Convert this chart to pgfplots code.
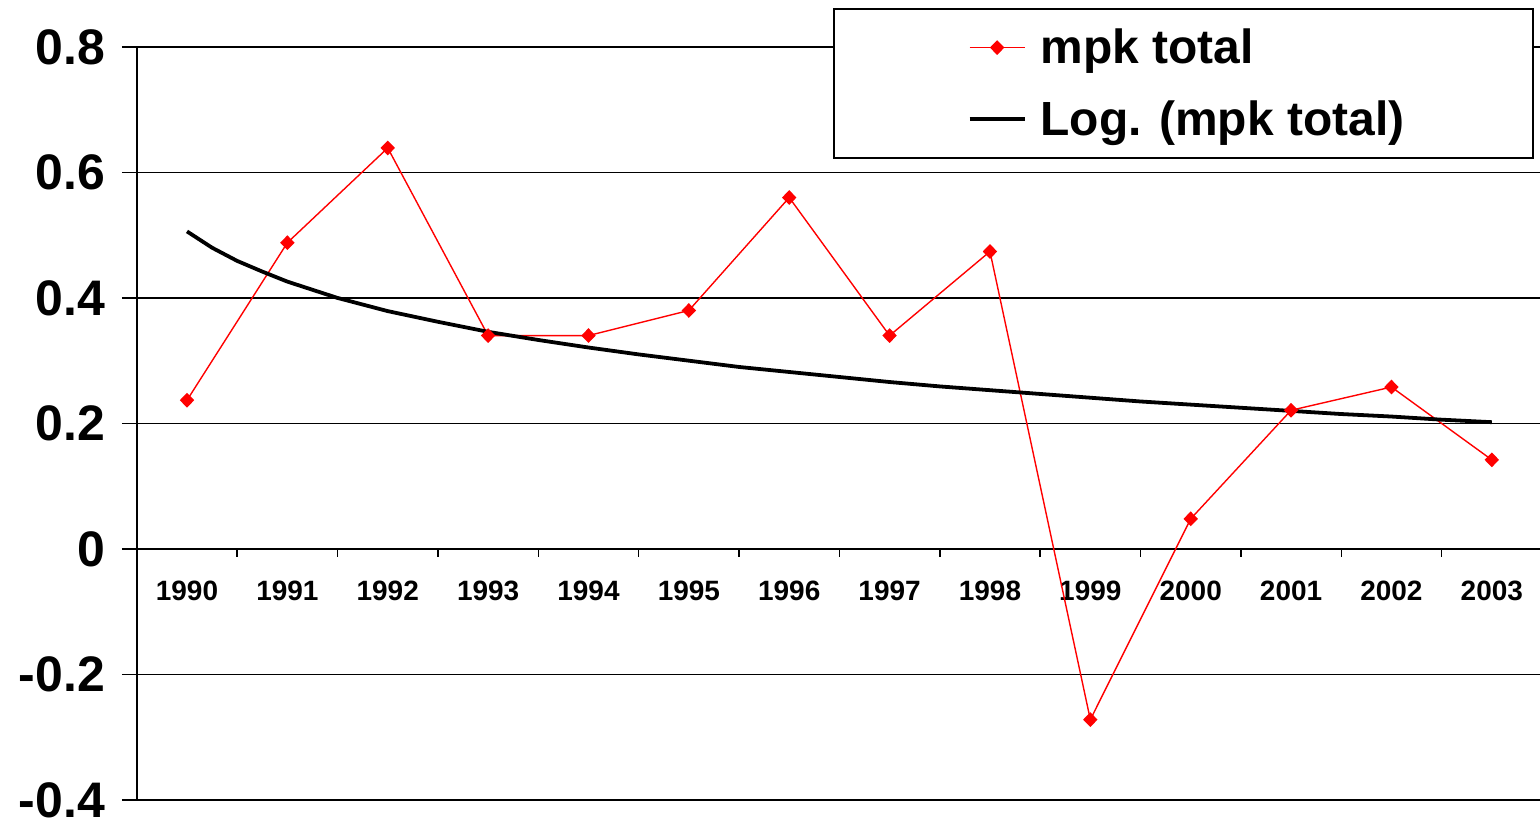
\documentclass[border=0pt]{standalone}
\usepackage{fontspec}
\setmainfont{Liberation Sans}
\usepackage{pgfplots}
\pgfplotsset{compat=1.18}
\usetikzlibrary{calc}

\begin{document}
\begin{tikzpicture}
\begin{axis}[
    name=ax,
    scale only axis,
    width=703.5pt,
    height=377pt,
    xmin=-0.5, xmax=13.5,
    ymin=-0.4, ymax=0.8,
    axis y line*=left,
    axis x line*=middle,
    hide obscured x ticks=false,
    hide obscured y ticks=false,
    axis line style={black, line width=0.75pt},
    xtick={0,...,13},
    xticklabels={1990,1991,1992,1993,1994,1995,1996,1997,1998,1999,2000,2001,2002,2003},
    minor xtick={0.5,1.5,...,12.5},
    major x tick style={draw=none},
    minor tick length=4pt,
    major tick length=7.5pt,
    tick align=outside,
    tick style={black, line width=0.75pt},
    xticklabel style={font=\fontsize{14}{16}\selectfont\bfseries, yshift=-5pt},
    ytick={-0.4,-0.2,0,0.2,0.4,0.6,0.8},
    yticklabels={-0.4,-0.2,0,0.2,0.4,0.6,0.8},
    yticklabel style={font=\fontsize{25}{29}\selectfont\bfseries, xshift=-5pt},
    ymajorgrids=true,
    grid style={black, line width=0.75pt},
    legend style={
        at={(0.9943,1.0517)},
        anchor=north east,
        draw=black,
        line width=0.75pt,
        fill=white,
        font=\fontsize{24}{29}\selectfont\bfseries,
        inner xsep=62.5pt,
        inner ysep=8pt,
        row sep=13pt,
        legend cell align=left,
        /tikz/every odd column/.append style={column sep=5pt},
    },
    legend image code/.code={
        \path (-4.5pt,0pt);
        \draw[mark repeat=2, mark phase=2, #1]
            plot coordinates {(0pt,0pt) (13.75pt,0pt) (27.5pt,0pt)};
    },
]

% mpk total
\addplot[red, line width=0.7pt, mark=diamond*, mark size=3.2pt,
    mark options={solid, fill=red, draw=red, xscale=1.3}] coordinates {
    (0, 0.237) (1, 0.488) (2, 0.639) (3, 0.340) (4, 0.340)
    (5, 0.380) (6, 0.560) (7, 0.340) (8, 0.474) (9, -0.272)
    (10, 0.048) (11, 0.221) (12, 0.258) (13, 0.142)
};
\addlegendentry{mpk total}

% logarithmic trend line
\addplot[black, line width=1.9pt, no markers] coordinates {
    (0, 0.506) (0.25, 0.480) (0.5, 0.459) (0.75, 0.442) (1, 0.426)
    (1.5, 0.400) (2, 0.379) (2.5, 0.362) (3, 0.346) (3.5, 0.333)
    (4, 0.321) (4.5, 0.310) (5, 0.300) (5.5, 0.290) (6, 0.282)
    (6.5, 0.274) (7, 0.266) (7.5, 0.259) (8, 0.253) (8.5, 0.247)
    (9, 0.241) (9.5, 0.235) (10, 0.230) (10.5, 0.225) (11, 0.220)
    (11.5, 0.215) (12, 0.211) (12.5, 0.206) (13, 0.202)
};
\addlegendentry{Log. (mpk total)}

\end{axis}
\pgfresetboundingbox
\path[use as bounding box] ($(ax.south west)+(-68.5pt,-11pt)$) rectangle ($(ax.north east)+(-1pt,23.5pt)$);
\end{tikzpicture}
\end{document}
